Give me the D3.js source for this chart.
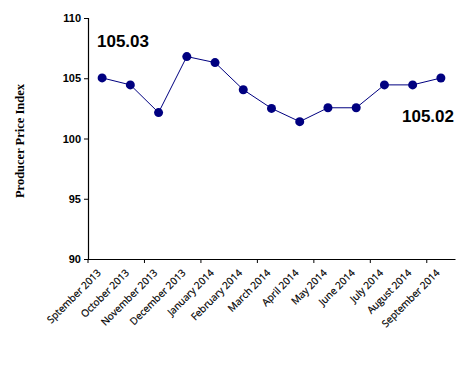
<!DOCTYPE html>
<html><head><meta charset="utf-8">
<script src="https://cdn.jsdelivr.net/npm/d3@7"></script>
<style>body{margin:0;background:#fff}svg{display:block}</style>
</head><body>
<script>
const categories = ["Sptember 2013","October 2013","November 2013","December 2013","January 2014","February 2014","March 2014","April 2014","May 2014","June 2014","July 2014","August 2014","September 2014"];
const values = [105.03,104.45,102.15,106.8,106.3,104.05,102.5,101.4,102.55,102.55,104.45,104.45,105.02];
const yTicks = [90,95,100,105,110];
const annotations = [{i:0,text:"105.03"},{i:12,text:"105.02"}];

const W=467,H=368;
const svg=d3.select("body").append("svg").attr("width",W).attr("height",H);
const x=d3.scaleBand().domain(categories).range([88,455]);
const y=d3.scaleLinear().domain([90,110]).range([259,18]);
const cx=d=>x(d)+x.bandwidth()/2;

// y axis
const ya=svg.append("g").attr("transform","translate(88,0)")
  .call(d3.axisLeft(y).tickValues(yTicks).tickSize(4).tickPadding(3));
ya.select(".domain").attr("stroke","#000").attr("stroke-width",1.2);
ya.selectAll("line").attr("stroke","#000");
ya.selectAll("text").attr("font-family","Arial, 'Liberation Sans', sans-serif").attr("font-weight","bold").attr("font-size","11px").attr("fill","#000");

// x axis
const xa=svg.append("g").attr("transform","translate(0,259)")
  .call(d3.axisBottom(x).tickSize(0).tickFormat(""));
xa.select(".domain").attr("stroke","#000").attr("stroke-width",1.2);
xa.selectAll(".tick").remove();
const tickIdx=[0,2,4,6,8,10,12];
xa.selectAll("line.t").data(tickIdx).join("line").attr("class","t")
  .attr("x1",i=>x(categories[i])).attr("x2",i=>x(categories[i]))
  .attr("y1",0).attr("y2",4).attr("stroke","#000");

svg.append("g").selectAll("text").data(categories).join("text")
  .attr("transform",d=>`translate(${cx(d)-3},${271}) rotate(-45)`)
  .attr("text-anchor","end").attr("dy","0.35em")
  .attr("font-family","'Open Sans', Arial, sans-serif").attr("font-size","10px").attr("fill","#000")
  .attr("stroke","#000").attr("stroke-width",0.2)
  .text(d=>d);

// y title
svg.append("text").attr("transform","translate(24,141) rotate(-90)")
  .attr("text-anchor","middle").attr("font-family","'Liberation Serif','Times New Roman',serif")
  .attr("font-weight","bold").attr("font-size","12.5px").text("Producer Price Index");

// line
const line=d3.line().x((d,i)=>cx(categories[i])).y(d=>y(d));
svg.append("path").datum(values).attr("d",line).attr("fill","none").attr("stroke","#000080").attr("stroke-width",1);
svg.append("g").selectAll("circle").data(values).join("circle")
  .attr("cx",(d,i)=>cx(categories[i])).attr("cy",d=>y(d)).attr("r",4.5).attr("fill","#000080");

// annotations
svg.append("text").attr("x",97).attr("y",47).attr("font-family","Arial, 'Liberation Sans', sans-serif")
  .attr("font-weight","bold").attr("font-size","17px").text(annotations[0].text);
svg.append("text").attr("x",454).attr("y",122).attr("text-anchor","end").attr("font-family","Arial, 'Liberation Sans', sans-serif")
  .attr("font-weight","bold").attr("font-size","17px").text(annotations[1].text);
</script>
</body></html>
